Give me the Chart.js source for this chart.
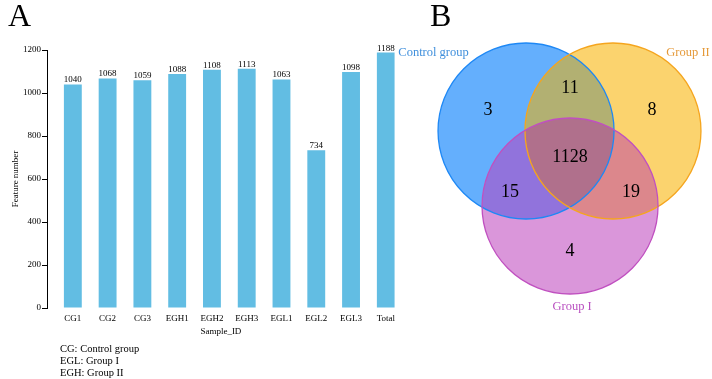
<!DOCTYPE html>
<html><head><meta charset="utf-8">
<script src="https://cdn.jsdelivr.net/npm/chart.js@4/dist/chart.umd.min.js"></script>
<style>
html,body{margin:0;padding:0;background:#fff;}
#wrap{position:relative;width:712px;height:379px;overflow:hidden;font-family:"Liberation Serif","Times New Roman",serif;color:#000;}
#barBox{position:absolute;left:0;top:0;width:400px;height:379px;}
#vennBox{position:absolute;left:380px;top:0;width:332px;height:379px;}
canvas{display:block;}
.panel{position:absolute;font-size:32px;line-height:32px;}
#notes{position:absolute;left:60px;top:343px;font-size:10.5px;line-height:12px;}
</style></head>
<body><div id="wrap">
<div id="barBox"><canvas id="bar" width="400" height="379"></canvas></div>
<div id="vennBox"><canvas id="venn" width="332" height="379"></canvas></div>
<div class="panel" style="left:8px;top:-1px">A</div>
<div class="panel" style="left:430px;top:-1px">B</div>
<div id="notes"></div>
</div>
<script>
// ---------- data ----------
const categories = ['CG1','CG2','CG3','EGH1','EGH2','EGH3','EGL1','EGL2','EGL3','Total'];
const featureCounts = [1040,1068,1059,1088,1108,1113,1063,734,1098,1188];
const yTicks = [0,200,400,600,800,1000,1200];
const noteLines = ['CG: Control group','EGL: Group I','EGH: Group II'];

const vennSets = ['Control group','Group II','Group I'];
// regions: CG only, CG∩GII, GII only, all, CG∩GI, GII∩GI, GI only
const vennRegionMembers = [[0],[0,1],[1],[0,1,2],[0,2],[1,2],[2]];
const vennRegionCounts = [3,11,8,1128,15,19,4];

// ---------- layout / style ----------
const SERIF = '"Liberation Serif","Times New Roman",serif';
const vennUnitPx = 88, vennOriginX = 189.5, vennOriginY = 131, vennW = 332, vennH = 379;
const vennCircleCenters = [{x:-0.494,y:0},{x:0.494,y:0},{x:0.006,y:-0.852}];
const vennRadius = 1;
const vennRegionPos = [{x:-0.926,y:0.239},{x:0.006,y:0.489},{x:0.9375,y:0.239},{x:0.006,y:-0.295},{x:-0.676,y:-0.693},{x:0.699,y:-0.693},{x:0.006,y:-1.364}];
const vennSetLabelPos = [{x:-1.545,y:0.886},{x:1.347,y:0.886},{x:0.03,y:-2.0}];
const vennRegionColors = ['#64affd','#b2b072','#fbd36e','#b0708c','#9173dc','#dc878c','#da96da'];
const vennStrokeColors = ['#1e88f5','#f5a51e','#c050c0'];
const vennLabelColors = ['#3f8fdc','#e59a3a','#b94fc0'];

document.getElementById('notes').innerHTML = noteLines.join('<br>');

// ---------- bar chart ----------
const valueLabels = {
  id:'valueLabels',
  afterDatasetsDraw(chart){
    const ctx = chart.ctx, meta = chart.getDatasetMeta(0);
    ctx.save();
    ctx.font = '9px ' + SERIF;
    ctx.textAlign = 'center';
    ctx.textBaseline = 'alphabetic';
    ctx.fillStyle = '#000';
    meta.data.forEach((bar,i)=>ctx.fillText(String(featureCounts[i]), bar.x, bar.y - 2));
    ctx.restore();
  }
};

new Chart(document.getElementById('bar'), {
  type:'bar',
  data:{datasets:[{
    data: featureCounts.map((v,i)=>({x:i+1,y:v})),
    backgroundColor:'#62bde3', borderWidth:0,
    barPercentage:0.514, categoryPercentage:1
  }]},
  options:{
    animation:false, responsive:false,
    layout:{padding:{top:50,bottom:41,left:0,right:0}},
    plugins:{legend:{display:false},tooltip:{enabled:false}},
    scales:{
      x:{
        type:'linear', min:0.257, max:10.257, offset:false,
        grid:{display:false, drawTicks:false}, border:{display:false},
        afterBuildTicks:s=>{ s.ticks = categories.map((c,i)=>({value:i+1})); },
        afterFit:s=>{ s.height = 30; },
        ticks:{callback:v=>categories[Math.round(v)-1], padding:5, autoSkip:false, maxRotation:0,
               font:{family:SERIF,size:9}, color:'#000'},
        title:{display:true, text:'Sample_ID', font:{family:SERIF,size:9}, color:'#000', padding:{top:0,bottom:0.6}}
      },
      y:{
        min:0, max:1200,
        afterBuildTicks:s=>{ s.ticks = yTicks.map(v=>({value:v})); },
        afterFit:s=>{ s.width = 47; },
        grid:{drawOnChartArea:false, drawTicks:true, tickLength:5, color:'#000'},
        border:{color:'#000', width:1},
        ticks:{padding:1, callback:v=>String(v), font:{family:SERIF,size:9}, color:'#000'},
        title:{display:true, text:'Feature number', font:{family:SERIF,size:9}, color:'#000', padding:{top:10,bottom:0}}
      }
    }
  },
  plugins:[valueLabels]
});

// ---------- venn diagram ----------
const vennPlugin = {
  id:'venn',
  afterDatasetsDraw(chart){
    const xs = chart.scales.x, ys = chart.scales.y, ctx = chart.ctx;
    const circles = vennCircleCenters.map(c=>({
      x: xs.getPixelForValue(c.x), y: ys.getPixelForValue(c.y),
      r: xs.getPixelForValue(c.x + vennRadius) - xs.getPixelForValue(c.x)
    }));
    const pathFor = c=>{ const p = new Path2D(); p.arc(c.x,c.y,c.r,0,Math.PI*2); return p; };
    const order = vennRegionMembers.map((m,i)=>i).sort((a,b)=>vennRegionMembers[a].length - vennRegionMembers[b].length);
    order.forEach(i=>{
      ctx.save();
      vennRegionMembers[i].forEach(k=>ctx.clip(pathFor(circles[k])));
      ctx.fillStyle = vennRegionColors[i];
      ctx.fillRect(0,0,chart.width,chart.height);
      ctx.restore();
    });
    ctx.save();
    ctx.lineWidth = 1.3;
    circles.forEach((c,k)=>{ ctx.strokeStyle = vennStrokeColors[k]; ctx.stroke(pathFor(c)); });
    ctx.fillStyle = '#000';
    ctx.textAlign = 'center';
    ctx.textBaseline = 'middle';
    ctx.font = '18px ' + SERIF;
    vennRegionCounts.forEach((v,i)=>ctx.fillText(String(v), xs.getPixelForValue(vennRegionPos[i].x), ys.getPixelForValue(vennRegionPos[i].y)));
    ctx.font = '12.5px ' + SERIF;
    vennSets.forEach((s,k)=>{
      ctx.fillStyle = vennLabelColors[k];
      ctx.fillText(s, xs.getPixelForValue(vennSetLabelPos[k].x), ys.getPixelForValue(vennSetLabelPos[k].y));
    });
    ctx.restore();
  }
};

new Chart(document.getElementById('venn'), {
  type:'scatter',
  data:{datasets:[{data: vennCircleCenters.map(c=>({x:c.x,y:c.y})), pointRadius:0}]},
  options:{
    animation:false, responsive:false,
    layout:{padding:0},
    plugins:{legend:{display:false},tooltip:{enabled:false}},
    scales:{
      x:{type:'linear', display:false, min:-vennOriginX/vennUnitPx, max:(vennW-vennOriginX)/vennUnitPx},
      y:{type:'linear', display:false, min:-(vennH-vennOriginY)/vennUnitPx, max:vennOriginY/vennUnitPx}
    }
  },
  plugins:[vennPlugin]
});
</script>
</body></html>
